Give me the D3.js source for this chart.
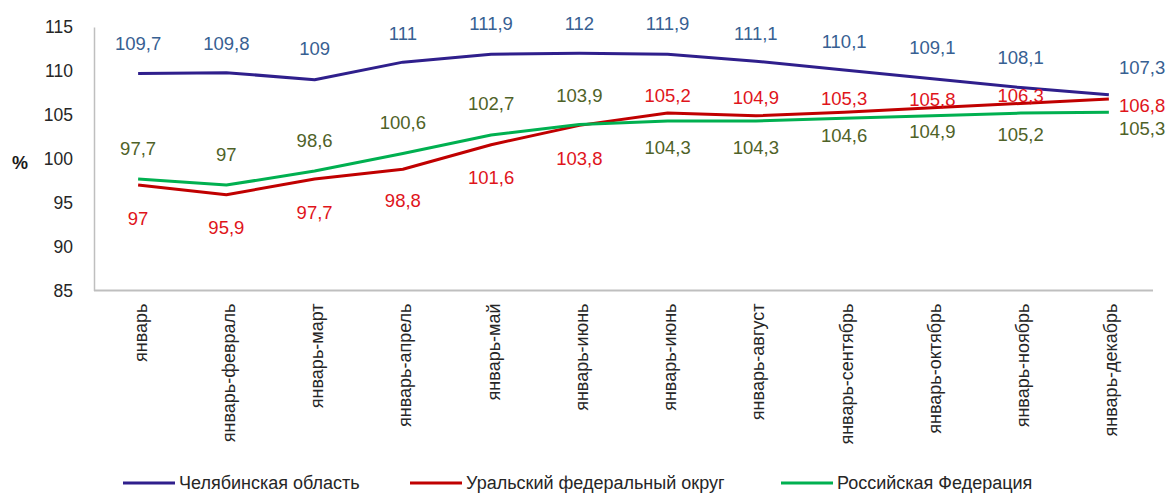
<!DOCTYPE html>
<html>
  <head>
    <meta charset="utf-8">
    <script src="https://d3js.org/d3.v7.min.js"></script>
    <style>
      body { margin: 0; background: #fff; }
      svg text { font-family: "Liberation Sans", Arial, sans-serif; }
    </style>
  </head>
<body>
<script type="text/javascript">

// categories (the source repeats "январь-июнь" twice)
var months = ["январь", "январь-февраль", "январь-март", "январь-апрель", "январь-май",
              "январь-июнь", "январь-июнь", "январь-август", "январь-сентябрь",
              "январь-октябрь", "январь-ноябрь", "январь-декабрь"];

var chelyabinsk = [109.7, 109.8, 109, 111, 111.9, 112, 111.9, 111.1, 110.1, 109.1, 108.1, 107.3];
var uralFO      = [97, 95.9, 97.7, 98.8, 101.6, 103.8, 105.2, 104.9, 105.3, 105.8, 106.3, 106.8];
var russia      = [97.7, 97, 98.6, 100.6, 102.7, 103.9, 104.3, 104.3, 104.6, 104.9, 105.2, 105.3];

var seriesNames = ["Челябинская область", "Уральский федеральный округ", "Российская Федерация"];
var yTicks = [85, 90, 95, 100, 105, 110, 115];

// where each data label sits relative to its point (px, negative = above), last one goes right
var blueLabelDy  = [-30, -29, -31, -29, -31, -30, -31, -28, -29, -31, -30, -27];
var redLabelDy   = [33, 33, 33, 31, 33, 33, -18, -18, -14, -8, -8, 6];
var greenLabelDy = [-31, -31, -31, -31, -32, -29, 26, 26, 17, 16, 21, 16];

var series = [
  { name: seriesNames[0], values: chelyabinsk, line: "#2f1f8c", label: "#376092", dy: blueLabelDy },
  { name: seriesNames[1], values: uralFO,      line: "#c00000", label: "#e0141b", dy: redLabelDy },
  { name: seriesNames[2], values: russia,      line: "#00b050", label: "#4f6228", dy: greenLabelDy }
];

var width = 1173, height = 493;
var plotLeft = 94, plotRight = 1153, plotTop = 27, plotBottom = 290.5;

var svg = d3.select("body").append("svg")
    .attr("width", width)
    .attr("height", height);

var x = d3.scalePoint()
    .domain(d3.range(months.length))
    .range([plotLeft, plotRight])
    .padding(0.5);

var y = d3.scaleLinear()
    .domain([85, 115])
    .range([plotBottom, plotTop]);

// y axis
var yAxis = svg.append("g")
    .attr("transform", "translate(" + plotLeft + ",0)")
    .call(d3.axisLeft(y).tickValues(yTicks).tickSize(0).tickPadding(21));
yAxis.select(".domain").attr("stroke", "#bfbfbf").attr("stroke-width", 1.5);
yAxis.selectAll("text")
    .attr("fill", "#262626")
    .style("font-size", "17.5px");

// x axis
var xAxis = svg.append("g")
    .attr("transform", "translate(0," + plotBottom + ")")
    .call(d3.axisBottom(x).tickSize(0).tickFormat(function (i) { return months[i]; }));
xAxis.select(".domain")
    .attr("d", "M" + plotLeft + ",0H" + plotRight)
    .attr("stroke", "#bfbfbf").attr("stroke-width", 2);
xAxis.selectAll("text")
    .attr("fill", "#262626")
    .style("font-size", "18px")
    .attr("text-anchor", "end")
    .attr("transform", "rotate(-90)")
    .attr("x", -13)
    .attr("y", 0)
    .attr("dy", "0.45em");

svg.append("text")
    .attr("x", 20)
    .attr("y", 163)
    .attr("dy", "0.35em")
    .attr("text-anchor", "middle")
    .style("font-size", "18px")
    .style("font-weight", "bold")
    .attr("fill", "#1a1a1a")
    .text("%");

var line = d3.line()
    .x(function (d, i) { return x(i); })
    .y(function (d) { return y(d); });

series.forEach(function (s) {
  svg.append("path")
      .datum(s.values)
      .attr("fill", "none")
      .attr("stroke", s.line)
      .attr("stroke-width", 3)
      .attr("stroke-linejoin", "round")
      .attr("d", line);
});

var fmt = function (v) { return String(v).replace(".", ","); };

series.forEach(function (s) {
  var last = s.values.length - 1;
  svg.append("g").selectAll("text")
      .data(s.values)
      .enter()
      .append("text")
      .attr("x", function (d, i) { return i === last ? x(i) + 10 : x(i); })
      .attr("y", function (d, i) { return y(d) + s.dy[i]; })
      .attr("dy", "0.36em")
      .attr("text-anchor", function (d, i) { return i === last ? "start" : "middle"; })
      .attr("fill", s.label)
      .style("font-size", "18.5px")
      .text(fmt);
});

// legend
var legendX = [123, 410, 781];
var legend = svg.append("g").selectAll("g")
    .data(series)
    .enter()
    .append("g")
    .attr("transform", function (d, i) { return "translate(" + legendX[i] + ",483)"; });
legend.append("line")
    .attr("x1", 0).attr("x2", 52)
    .attr("stroke", function (d) { return d.line; })
    .attr("stroke-width", 3);
legend.append("text")
    .attr("x", 56)
    .attr("dy", "0.35em")
    .attr("fill", "#262626")
    .style("font-size", "18px")
    .text(function (d) { return d.name; });

</script>
</body>
</html>
